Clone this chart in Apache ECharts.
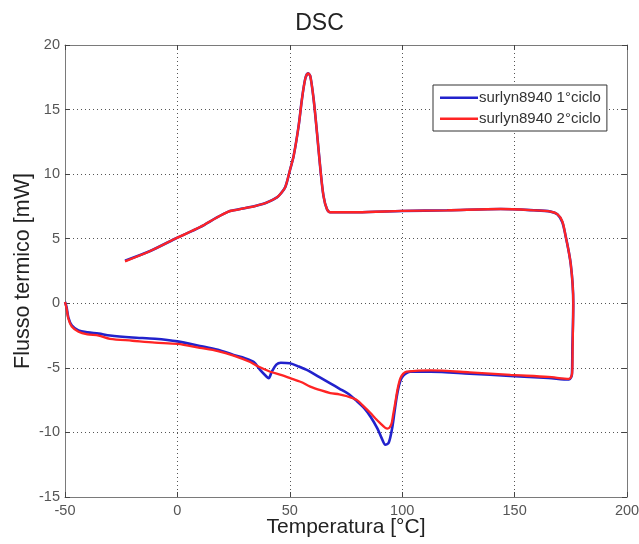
<!DOCTYPE html>
<html>
<head>
<meta charset="utf-8">
<title>DSC</title>
<script src="https://cdn.jsdelivr.net/npm/echarts@6/dist/echarts.min.js"></script>
<style>
  html, body { margin: 0; padding: 0; background: #fff; }
  #chart { width: 639px; height: 544px; }
</style>
</head>
<body>
<div id="chart"></div>
<script>
// Axis ticks
const xTicks = [-50, 0, 50, 100, 150, 200];
const yTicks = [-15, -10, -5, 0, 5, 10, 15, 20];

const seriesNames = ['surlyn8940 1°ciclo', 'surlyn8940 2°ciclo'];

// Cycle 1: heating sweep (-50 -> 176 °C), then cooling sweep back to -23 °C
const cycle1Heating = [
  [-50, 0.1], [-49.3, -0.3], [-48.5, -1.1], [-47, -1.7], [-44, -2.1], [-40, -2.25],
  [-35, -2.35], [-30, -2.5], [-20, -2.65], [-10, -2.75], [0, -2.95], [10, -3.3],
  [18, -3.6], [25, -4.0], [30, -4.25], [34, -4.55], [37, -5.2], [39.5, -5.65],
  [40.6, -5.8], [42, -5.3], [44, -4.75], [46, -4.6], [50, -4.65], [54, -4.9],
  [58, -5.2], [63, -5.7], [68, -6.2], [72, -6.6], [76, -7.0], [80, -7.6],
  [83, -8.1], [86, -8.8], [89, -9.7], [91, -10.5], [92.5, -10.95], [94, -10.8],
  [95.5, -9.7], [96.5, -8.5], [97.7, -7.1], [99, -6.1], [100.5, -5.6], [103.7, -5.3],
  [112.6, -5.3], [130, -5.45], [148, -5.62], [165, -5.78], [174.2, -5.9]
];
const cycle1Cooling = [
  [175.5, -5.5], [175.7, -3.5], [176.1, 0], [175.8, 1.5], [175, 3], [174.2, 3.9],
  [172.7, 5.2], [171.2, 6.3], [169, 6.9], [166, 7.1], [158.6, 7.2], [143.8, 7.3],
  [120, 7.2], [100, 7.15], [80, 7.05], [68, 7.05], [66.5, 7.3], [65, 8.3],
  [63.6, 10.4], [62.1, 13.2], [60.6, 15.8], [59.1, 17.6], [58.1, 17.8], [56.9, 17.4],
  [55.4, 15.8], [53.9, 13.7], [51.7, 11.4], [50.2, 10.4], [48, 9.0], [46, 8.5],
  [44.3, 8.2], [39.8, 7.8], [35, 7.55], [30.9, 7.4], [25, 7.2], [22.7, 7.1],
  [17.6, 6.65], [10.1, 5.9], [-1, 5.0], [-12.1, 4.05], [-23.3, 3.3]
];

// Cycle 2: same program, second run
const cycle2Heating = [
  [-50, 0.1], [-49.3, -0.4], [-48.5, -1.2], [-47, -1.8], [-44, -2.2], [-40, -2.4],
  [-35, -2.5], [-30, -2.75], [-20, -2.9], [-10, -3.05], [0, -3.15], [10, -3.45],
  [18, -3.7], [25, -4.05], [32.4, -4.55], [36, -4.9], [41.3, -5.3], [46, -5.55],
  [50.2, -5.8], [55, -6.1], [59.1, -6.45], [64, -6.75], [68, -6.95], [72, -7.05],
  [75.5, -7.2], [79.9, -7.5], [83, -8.0], [85.9, -8.5], [88, -8.9], [90.3, -9.3],
  [92.5, -9.65], [93.5, -9.7], [95.1, -9.4], [96, -8.6], [97, -7.6], [98, -6.6],
  [99.2, -5.8], [100.5, -5.45], [102, -5.3], [112.6, -5.2], [130, -5.35],
  [148.2, -5.55], [165, -5.7], [174.2, -5.85]
];
const cycle2Cooling = [
  [175.6, -5.4], [175.8, -3.5], [176.1, 0], [175.8, 1.5], [175, 3], [174.2, 3.9],
  [172.7, 5.2], [171.2, 6.35], [169, 6.9], [166, 7.1], [158.6, 7.2], [143.8, 7.3],
  [120, 7.2], [100, 7.15], [80, 7.05], [68, 7.05], [66.5, 7.3], [65, 8.3],
  [63.6, 10.4], [62.1, 13.2], [60.6, 15.8], [59.1, 17.6], [58.1, 17.8], [56.9, 17.4],
  [55.4, 15.8], [53.9, 13.7], [51.7, 11.4], [50.2, 10.4], [48, 9.0], [46, 8.5],
  [44.3, 8.2], [39.8, 7.8], [35, 7.55], [30.9, 7.4], [25, 7.2], [22.7, 7.1],
  [17.6, 6.65], [10.1, 5.9], [-1, 5.0], [-12.1, 4.05], [-23.3, 3.25]
];

const FONT = '"Liberation Sans", Arial, Helvetica, sans-serif';
const frameColor = '#7a7a7a';
const gridLine = { show: true, lineStyle: { type: [1, 3], color: '#555', width: 1 } };
// plain line sample for the legend (invisible move-to points fix the box size)
const legendLineIcon = 'path://M0,0 M38,14 M0,6 L38,6 L38,8.4 L0,8.4 Z';

const chart = echarts.init(document.getElementById('chart'), null, { renderer: 'canvas' });

function sideAxis(extra) {
  return Object.assign({
    type: 'value',
    axisLine: { show: true, onZero: false, lineStyle: { color: frameColor, width: 1 } },
    axisTick: { show: true, inside: true, length: 5, lineStyle: { color: '#444' } },
    axisLabel: { show: false },
    splitLine: { show: false }
  }, extra);
}

chart.setOption({
  backgroundColor: '#fff',
  animation: false,
  title: {
    text: 'DSC',
    left: 'center',
    top: 7,
    textStyle: { fontFamily: FONT, fontSize: 23, fontWeight: 'normal', color: '#222' }
  },
  legend: {
    orient: 'vertical',
    left: 433,
    top: 85,
    data: seriesNames,
    icon: legendLineIcon,
    itemWidth: 38,
    itemHeight: 14,
    itemGap: 6,
    padding: [5, 6, 5, 7],
    borderColor: '#333',
    borderWidth: 1,
    backgroundColor: '#fff',
    textStyle: { fontFamily: FONT, fontSize: 15, color: '#333', padding: [0, 0, 0, -4] }
  },
  grid: { left: 65, right: 12, top: 45, bottom: 47, containLabel: false, outerBoundsMode: 'none' },
  xAxis: [
    {
      type: 'value',
      min: xTicks[0],
      max: xTicks[xTicks.length - 1],
      interval: 50,
      name: 'Temperatura [°C]',
      nameLocation: 'middle',
      nameGap: 30,
      nameMoveOverlap: false,
      nameTextStyle: { fontFamily: FONT, fontSize: 21, color: '#222', verticalAlign: 'middle' },
      axisLine: { show: true, onZero: false, lineStyle: { color: frameColor, width: 1 } },
      axisTick: { show: true, inside: true, length: 5, lineStyle: { color: '#444' } },
      axisLabel: { fontFamily: FONT, fontSize: 14.5, color: '#555', margin: 6 },
      splitLine: gridLine
    },
    sideAxis({ position: 'top', min: xTicks[0], max: xTicks[xTicks.length - 1], interval: 50 })
  ],
  yAxis: [
    {
      type: 'value',
      min: yTicks[0],
      max: yTicks[yTicks.length - 1],
      interval: 5,
      name: 'Flusso termico [mW]',
      nameLocation: 'middle',
      nameGap: 42,
      nameMoveOverlap: false,
      nameTextStyle: { fontFamily: FONT, fontSize: 21.5, color: '#222', verticalAlign: 'middle' },
      axisLine: { show: true, onZero: false, lineStyle: { color: frameColor, width: 1 } },
      axisTick: { show: true, inside: true, length: 5, lineStyle: { color: '#444' } },
      axisLabel: { fontFamily: FONT, fontSize: 14.5, color: '#555', margin: 5 },
      splitLine: gridLine
    },
    sideAxis({ position: 'right', min: yTicks[0], max: yTicks[yTicks.length - 1], interval: 5 })
  ],
  series: [
    {
      name: seriesNames[0],
      type: 'line',
      data: cycle1Heating.concat(cycle1Cooling),
      symbol: 'none',
      smooth: 0.3,
      lineStyle: { color: '#2222cc', width: 2.6 },
      itemStyle: { color: '#2222cc' },
      z: 3
    },
    {
      name: seriesNames[1],
      type: 'line',
      data: cycle2Heating.concat(cycle2Cooling),
      symbol: 'none',
      smooth: 0.3,
      lineStyle: { color: '#ff2424', width: 2.3 },
      itemStyle: { color: '#ff2424' },
      z: 4
    }
  ]
});
</script>
</body>
</html>
